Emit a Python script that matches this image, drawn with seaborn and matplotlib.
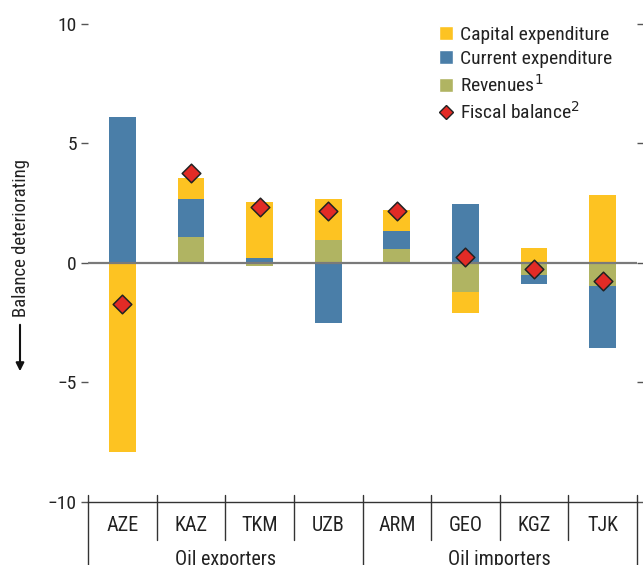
import numpy as np
import matplotlib
matplotlib.use('Agg')
import matplotlib.pyplot as plt
from matplotlib.lines import Line2D
from matplotlib.patches import Patch, FancyArrowPatch
import seaborn as sns

# values (percent of GDP)
countries = ['AZE', 'KAZ', 'TKM', 'UZB', 'ARM', 'GEO', 'KGZ', 'TJK']
groups = ['Oil exporters', 'Oil importers']
revenues = [0.0, 1.09, -0.12, 0.95, 0.57, -1.23, -0.51, -0.97]
current_exp = [6.1, 1.58, 0.2, -2.5, 0.76, 2.46, -0.38, -2.6]
capital_exp = [-7.9, 0.87, 2.34, 1.72, 0.87, -0.87, 0.61, 2.83]
fiscal_balance = [-1.73, 3.78, 2.32, 2.18, 2.19, 0.24, -0.26, -0.75]

col_cap = '#FDC322'
col_cur = '#4A7EA8'
col_rev = '#B0B462'
col_bal = '#E22B26'
txt = '#222222'

sns.set_style('white')
plt.rcParams['font.family'] = ['Roboto Condensed', 'DejaVu Sans']

fig = plt.figure(figsize=(6.43, 5.65), dpi=100)
ax = fig.add_axes([88 / 643, 63 / 565, (637 - 88) / 643, 502 / 565])

x = np.arange(len(countries))
w = 0.39
pos_bottom = np.zeros(len(x))
neg_bottom = np.zeros(len(x))
for vals, c in [(revenues, col_rev), (current_exp, col_cur), (capital_exp, col_cap)]:
    vals = np.array(vals)
    bottoms = np.where(vals >= 0, pos_bottom, neg_bottom)
    ax.bar(x, vals, width=w, bottom=bottoms, color=c, linewidth=0, zorder=2)
    pos_bottom = pos_bottom + np.clip(vals, 0, None)
    neg_bottom = neg_bottom + np.clip(vals, None, 0)

ax.axhline(0, color='#7a7a7a', lw=1.6, zorder=3)

sns.scatterplot(x=x, y=fiscal_balance, marker='D', s=90, color=col_bal,
                edgecolor=txt, linewidth=1.1, zorder=5, ax=ax, legend=False)

ax.set_xlim(-0.5, 7.5)
ax.set_ylim(-10, 11)
ax.set_yticks([-10, -5, 0, 5, 10])
ax.set_yticklabels(['\u221210', '\u22125', '0', '5', '10'])
ax.set_xticks([])
ax.tick_params(axis='y', which='both', left=True, right=True, direction='out',
               length=5, width=1, color='#555555', labelsize=14, labelcolor=txt, pad=3)
for s in ['left', 'right', 'top']:
    ax.spines[s].set_visible(False)
ax.spines['bottom'].set_color('#333333')
ax.spines['bottom'].set_linewidth(1)

# category separators and labels below the axis
tr = ax.get_xaxis_transform()
for i in range(len(countries) + 1):
    xb = i - 0.5
    low = -0.13 if i in (0, 4, 8) else -0.075
    ax.plot([xb, xb], [0.014, low], transform=tr, color='#333333', lw=1, clip_on=False)
for i, c in enumerate(countries):
    ax.text(i, -0.046, c, transform=tr, ha='center', va='center', fontsize=14.5, color=txt)
ax.text(1.5, -0.114, groups[0], transform=tr, ha='center', va='center', fontsize=14.5, color=txt)
ax.text(5.5, -0.114, groups[1], transform=tr, ha='center', va='center', fontsize=14.5, color=txt)

# y label with arrow
fig.text(21 / 643, 1 - 238 / 565, 'Balance deteriorating', rotation=90, ha='center', va='center',
         fontsize=13.5, color=txt)
fig.add_artist(FancyArrowPatch((20 / 643, 1 - 322 / 565), (20 / 643, 1 - 374 / 565),
               transform=fig.transFigure, arrowstyle='-|>', mutation_scale=12, color='#111111', lw=1.5))

handles = [Patch(facecolor=col_cap, label='Capital expenditure'),
           Patch(facecolor=col_cur, label='Current expenditure'),
           Patch(facecolor=col_rev, label='Revenues$^1$'),
           Line2D([], [], marker='D', ls='none', markerfacecolor=col_bal, markeredgecolor=txt,
                  markersize=7.5, label='Fiscal balance$^2$')]
leg = ax.legend(handles=handles, loc='upper left', bbox_to_anchor=((439 - 88) / 549, (502 - 26) / 502),
                frameon=False, fontsize=14, handlelength=0.7, handleheight=0.7, handletextpad=0.4,
                labelspacing=0.3, borderaxespad=0, borderpad=0)
for t in leg.get_texts():
    t.set_color(txt)

fig.savefig('out.png', dpi=100)
